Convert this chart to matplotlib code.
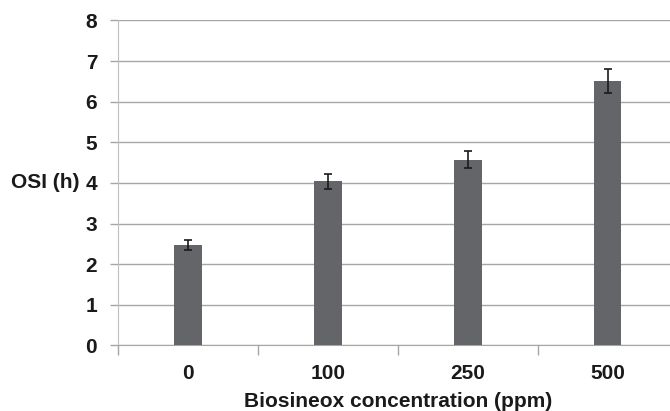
import matplotlib
matplotlib.use('Agg')
import matplotlib.pyplot as plt
import numpy as np

plt.rcParams['font.family'] = ['Liberation Sans', 'DejaVu Sans']

# Data
categories = ['0', '100', '250', '500']
osi_values = [2.48, 4.04, 4.57, 6.51]
osi_errors = [0.12, 0.19, 0.21, 0.30]
y_ticks = [0, 1, 2, 3, 4, 5, 6, 7, 8]

fig = plt.figure(figsize=(6.7, 4.11), dpi=100)
ax = fig.add_axes([0.1761, 0.1594, 0.835, 0.791])

x = np.arange(len(categories))
ax.bar(x, osi_values, width=0.2, color='#646568', zorder=3)
ax.errorbar(x, osi_values, yerr=osi_errors, fmt='none', ecolor='#1a1a1a',
            elinewidth=1.2, capsize=2.7, capthick=1.2, zorder=4)

ax.set_xlim(-0.5, len(categories) - 0.5)
ax.set_ylim(0, 8)
ax.set_yticks(y_ticks)
ax.set_yticklabels([str(t) for t in y_ticks], fontsize=15, fontweight='bold', color='#1a1a1a')
ax.yaxis.grid(True, color='#a6a6a6', linewidth=1.0, zorder=0)
ax.set_axisbelow(True)

# category ticks at boundaries, labels centered
ax.set_xticks(np.arange(len(categories) + 1) - 0.5)
ax.set_xticklabels([])
ax.set_xticks(x, minor=True)
ax.set_xticklabels(categories, minor=True, fontsize=15, fontweight='bold', color='#1a1a1a')
ax.tick_params(axis='x', which='minor', length=0, pad=13)
ax.tick_params(axis='x', which='major', length=7, width=1, color='#a6a6a6')
ax.tick_params(axis='y', length=6, width=1, color='#a6a6a6', pad=9)

for side in ['top', 'right']:
    ax.spines[side].set_visible(False)
ax.spines['left'].set_color('#bfbfbf')
ax.spines['bottom'].set_color('#a6a6a6')

ax.set_xlabel('Biosineox concentration (ppm)', fontsize=15, fontweight='bold',
              color='#1a1a1a', labelpad=7)
ax.set_ylabel('OSI (h)', fontsize=15, fontweight='bold', color='#1a1a1a',
              rotation=0, va='center', ha='right')
ax.yaxis.set_label_coords(-0.068, 0.5)

fig.savefig('out.png', dpi=100, facecolor='white')
